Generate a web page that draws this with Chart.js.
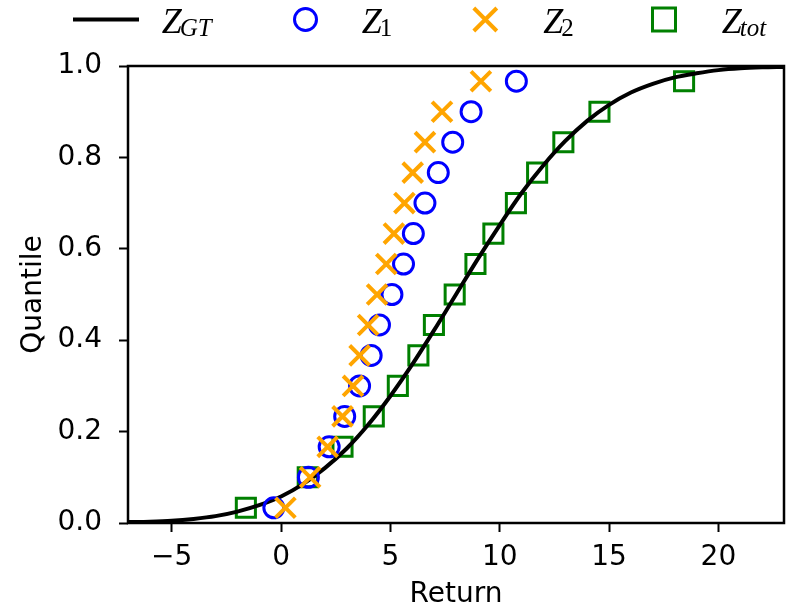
<!DOCTYPE html>
<html>
<head>
<meta charset="utf-8">
<script src="https://cdn.jsdelivr.net/npm/chart.js@4.4.0/dist/chart.umd.min.js"></script>
<style>
  html, body { margin: 0; padding: 0; background: #fff; }
  #wrap { position: relative; width: 802px; height: 607px; }
</style>
</head>
<body>
<div id="wrap"><canvas id="quantileChart"></canvas></div>
<script>
// Quantile levels shared by the three sample sets
const quantiles = [0.0333, 0.1, 0.1667, 0.2333, 0.3, 0.3667, 0.4333, 0.5, 0.5667, 0.6333, 0.7, 0.7667, 0.8333, 0.9, 0.9667];

// Sample returns
const z1Returns = [-0.33, 1.25, 2.20, 2.91, 3.59, 4.12, 4.50, 5.07, 5.60, 6.05, 6.58, 7.19, 7.85, 8.69, 10.76];
const z2Returns = [0.20, 1.33, 2.13, 2.81, 3.29, 3.59, 3.98, 4.39, 4.81, 5.16, 5.64, 6.02, 6.58, 7.36, 9.14];
const zTotReturns = [-1.61, 1.22, 2.81, 4.24, 5.34, 6.28, 6.99, 7.94, 8.89, 9.71, 10.74, 11.71, 12.91, 14.56, 18.43];

// Ground truth curve, read at whole returns
const gtReturns = [-7, -6, -5, -4, -3, -2, -1, 0, 1, 2, 3, 4, 5, 6, 7, 8, 9, 10, 11, 12, 13, 14, 15, 16, 17, 18, 19, 20, 21, 22, 23];
const gtQuantiles = [0.002, 0.003, 0.005, 0.009, 0.015, 0.025, 0.039, 0.058, 0.085, 0.12, 0.163, 0.216, 0.278, 0.347, 0.422, 0.5,
  0.578, 0.652, 0.722, 0.783, 0.836, 0.88, 0.915, 0.942, 0.961, 0.975, 0.984, 0.991, 0.995, 0.997, 0.998];

const xTicks = [-5, 0, 5, 10, 15, 20];
const yTicks = [0, 0.2, 0.4, 0.6, 0.8, 1.0];

const toPoints = (xs, ys) => xs.map((x, i) => ({x: x, y: ys[i]}));

const tickFont = {family: 'DejaVu Sans', size: 28};
const titleFont = {family: 'DejaVu Sans', size: 28, lineHeight: 0.9};

// full black box around the plot, like matplotlib
const framePlugin = {
    id: 'frame',
    afterDatasetsDraw(chart) {
        const {ctx, chartArea: a} = chart;
        ctx.save();
        ctx.strokeStyle = '#000';
        ctx.lineWidth = 2.5;
        ctx.strokeRect(a.left, a.top, a.right - a.left, a.bottom - a.top);
        ctx.restore();
    }
};

// legend across the top with subscripted labels
const legendPlugin = {
    id: 'mathLegend',
    afterDraw(chart) {
        const ctx = chart.ctx;
        ctx.save();
        const cy = 19.5;

        ctx.strokeStyle = '#000';
        ctx.lineWidth = 4;
        ctx.beginPath();
        ctx.moveTo(73, cy);
        ctx.lineTo(139, cy);
        ctx.stroke();

        ctx.strokeStyle = 'blue';
        ctx.lineWidth = 3;
        ctx.beginPath();
        ctx.arc(305.5, cy, 11, 0, Math.PI * 2);
        ctx.stroke();

        ctx.strokeStyle = 'orange';
        ctx.lineWidth = 4;
        ctx.beginPath();
        ctx.moveTo(485.3 - 11.5, cy - 11.5);
        ctx.lineTo(485.3 + 11.5, cy + 11.5);
        ctx.moveTo(485.3 - 11.5, cy + 11.5);
        ctx.lineTo(485.3 + 11.5, cy - 11.5);
        ctx.stroke();

        ctx.strokeStyle = 'green';
        ctx.lineWidth = 3;
        ctx.strokeRect(664 - 11.5, cy - 11.5, 23, 23);

        const labels = [
            {x: 161.7, sub: 'GT', italicSub: true},
            {x: 361.7, sub: '1', italicSub: false},
            {x: 543.3, sub: '2', italicSub: false},
            {x: 721.7, sub: 'tot', italicSub: true}
        ];
        ctx.fillStyle = '#000';
        ctx.textBaseline = 'alphabetic';
        ctx.textAlign = 'left';
        labels.forEach(l => {
            ctx.font = 'italic 36px "Liberation Serif"';
            ctx.fillText('Z', l.x, 33);
            const w = ctx.measureText('Z').width;
            ctx.font = (l.italicSub ? 'italic ' : '') + '25px "Liberation Serif"';
            ctx.fillText(l.sub, l.x + w - 2, 36);
        });
        ctx.restore();
    }
};

const ctx = document.getElementById('quantileChart').getContext('2d');
const quantileChart = new Chart(ctx, {
    type: 'scatter',
    data: {
        datasets: [
            {
                label: 'Z_GT',
                data: toPoints(gtReturns, gtQuantiles),
                showLine: true,
                borderColor: '#000',
                borderWidth: 4,
                pointRadius: 0,
                cubicInterpolationMode: 'monotone',
                order: 3
            },
            {
                label: 'Z_1',
                data: toPoints(z1Returns, quantiles),
                pointStyle: 'circle',
                pointRadius: 10,
                borderColor: 'blue',
                backgroundColor: 'rgba(0,0,0,0)',
                borderWidth: 3,
                order: 2
            },
            {
                label: 'Z_2',
                data: toPoints(z2Returns, quantiles),
                pointStyle: 'crossRot',
                pointRadius: 14,
                borderColor: 'orange',
                borderWidth: 4,
                order: 1
            },
            {
                label: 'Z_tot',
                data: toPoints(zTotReturns, quantiles),
                pointStyle: 'rect',
                pointRadius: 13.5,
                borderColor: 'green',
                backgroundColor: 'rgba(0,0,0,0)',
                borderWidth: 3,
                order: 4
            }
        ]
    },
    options: {
        responsive: true,
        maintainAspectRatio: false,
        animation: false,
        events: [],
        layout: {
            padding: {top: 66, right: 15, left: 0, bottom: 0}
        },
        plugins: {
            legend: {display: false},
            tooltip: {enabled: false}
        },
        scales: {
            x: {
                type: 'linear',
                min: -7,
                max: 23,
                afterBuildTicks: scale => { scale.ticks = xTicks.map(v => ({value: v})); },
                afterFit: scale => { scale.height = 84; },
                grid: {display: true, drawOnChartArea: false, drawTicks: true, tickLength: 9, tickWidth: 2, tickColor: '#000'},
                border: {display: false},
                ticks: {
                    color: '#000',
                    font: tickFont,
                    padding: 9,
                    maxRotation: 0,
                    callback: v => v < 0 ? '\u2212' + Math.abs(v) : String(v)
                },
                title: {display: true, text: 'Return', color: '#000', font: titleFont, padding: {top: 0, bottom: 0}}
            },
            y: {
                type: 'linear',
                min: 0,
                max: 1,
                afterBuildTicks: scale => { scale.ticks = yTicks.map(v => ({value: v})); },
                afterFit: scale => { scale.width = 128; },
                grid: {display: true, drawOnChartArea: false, drawTicks: true, tickLength: 9, tickWidth: 2, tickColor: '#000'},
                border: {display: false},
                ticks: {
                    color: '#000',
                    font: tickFont,
                    padding: 17,
                    callback: v => v.toFixed(1)
                },
                title: {display: true, text: 'Quantile', color: '#000', font: titleFont, padding: {top: 21, bottom: 0}}
            }
        }
    },
    plugins: [framePlugin, legendPlugin]
});
</script>
</body>
</html>
